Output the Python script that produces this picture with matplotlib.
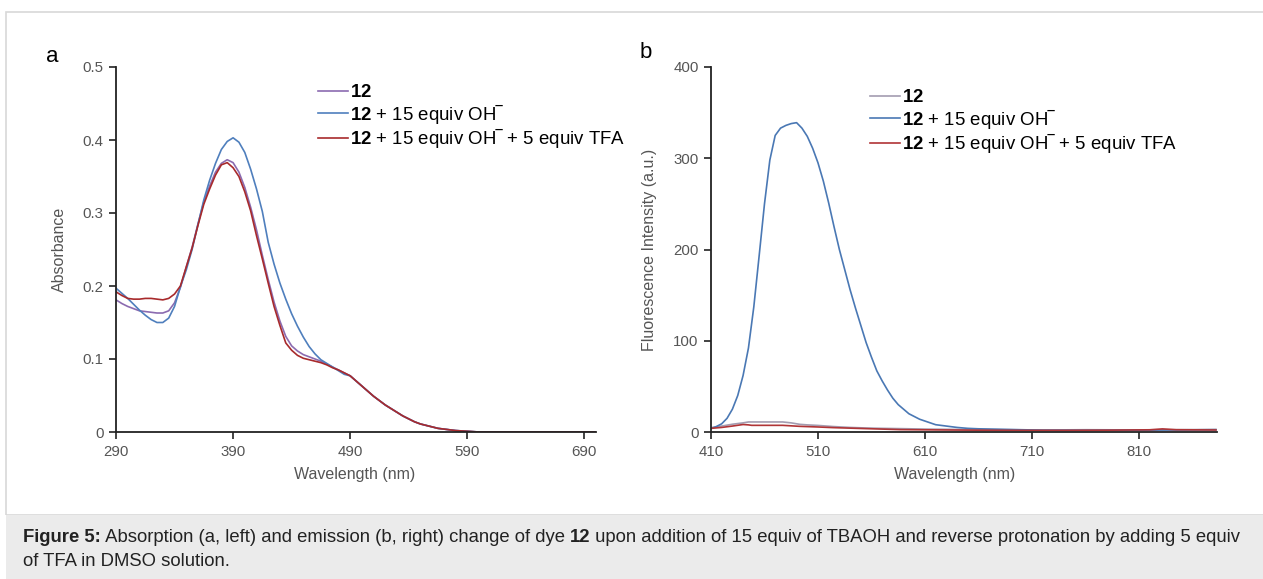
from __future__ import annotations

import matplotlib

matplotlib.use("Agg")
import matplotlib.pyplot as plt
from matplotlib.lines import Line2D
from matplotlib.patches import Rectangle

plt.rcParams["font.family"] = ["Liberation Sans", "DejaVu Sans"]
plt.rcParams["mathtext.fontset"] = "custom"
plt.rcParams["mathtext.rm"] = "Liberation Sans"
plt.rcParams["mathtext.bf"] = "Liberation Sans:bold"
plt.rcParams["mathtext.it"] = "Liberation Sans:italic"

# panel a: absorbance
ABS_WL = [
    290, 295, 300, 305, 310, 315, 320, 325, 330, 335, 340, 345, 350, 355, 360, 365,
    370, 375, 380, 385, 390, 395, 400, 405, 410, 415, 420, 425, 430, 435, 440, 445,
    450, 455, 460, 465, 470, 475, 480, 485, 490, 495, 500, 505, 510, 515, 520, 525,
    530, 535, 540, 545, 550, 555, 560, 565, 570, 575, 580, 590, 600, 650, 700,
]
ABS_TAIL = [
    0.077, 0.070, 0.063, 0.056, 0.049, 0.043, 0.037, 0.032, 0.027, 0.022, 0.018,
    0.014, 0.011, 0.009, 0.007, 0.005, 0.004, 0.003, 0.002, 0.001, 0.0, 0.0, 0.0,
]
ABS_DYE = [
    0.181, 0.176, 0.172, 0.169, 0.166, 0.165, 0.164, 0.163, 0.163, 0.166, 0.177, 0.198,
    0.226, 0.253, 0.285, 0.315, 0.337, 0.356, 0.368, 0.373, 0.369, 0.356, 0.335, 0.308,
    0.277, 0.242, 0.209, 0.178, 0.152, 0.131, 0.118, 0.111, 0.106, 0.103, 0.100, 0.097,
    0.093, 0.089, 0.085, 0.081,
] + ABS_TAIL
ABS_OH = [
    0.197, 0.190, 0.183, 0.175, 0.167, 0.160, 0.154, 0.150, 0.150, 0.156, 0.172, 0.199,
    0.222, 0.250, 0.284, 0.318, 0.345, 0.368, 0.387, 0.398, 0.403, 0.397, 0.383, 0.360,
    0.333, 0.302, 0.260, 0.230, 0.204, 0.182, 0.162, 0.145, 0.130, 0.117, 0.107, 0.099,
    0.094, 0.089, 0.084, 0.079,
] + ABS_TAIL
ABS_TFA = [
    0.192, 0.187, 0.183, 0.182, 0.182, 0.183, 0.183, 0.182, 0.181, 0.183, 0.189, 0.200,
    0.226, 0.252, 0.283, 0.312, 0.333, 0.352, 0.366, 0.369, 0.362, 0.350, 0.329, 0.303,
    0.269, 0.237, 0.204, 0.172, 0.146, 0.122, 0.112, 0.105, 0.101, 0.099, 0.097, 0.095,
    0.092, 0.088, 0.085, 0.081,
] + ABS_TAIL

# panel b: fluorescence
FL_OH_WL = [
    410, 415, 420, 425, 430, 435, 440, 445, 450, 455, 460, 465, 470, 475, 480, 485,
    490, 495, 500, 505, 510, 515, 520, 525, 530, 535, 540, 545, 550, 555, 560, 565,
    570, 575, 580, 585, 590, 595, 600, 605, 610, 615, 620, 630, 640, 650, 660, 680,
    700, 720, 760, 800, 840, 882,
]
FL_OH = [
    3.7, 6, 9, 15, 25, 40, 62, 92, 137, 193, 250, 298, 325, 333, 336, 338,
    339, 333, 324, 311, 295, 275, 251, 225, 200, 178, 156, 136, 117, 98, 82, 67,
    56, 46, 37, 30, 25, 20, 17, 14, 12, 10, 8, 6.5, 5, 4, 3.5, 3,
    2.5, 2, 1.8, 2, 2.2, 2.5,
]
FL_DYE_WL = [410, 420, 430, 440, 445, 450, 460, 470, 477, 485, 493, 500, 510, 524, 540,
             555, 570, 587, 610, 640, 680, 720, 760, 800, 840, 882]
FL_DYE = [4.8, 6.5, 8.5, 10, 11, 11, 11, 11, 11, 10, 8.4, 7.8, 7.2, 6, 5,
          4.4, 4, 3.7, 3.2, 2.8, 2.5, 2.2, 2.5, 2.3, 2.5, 2.8]
FL_TFA_WL = [410, 420, 430, 440, 445, 448, 460, 477, 493, 510, 524, 555, 587, 620, 660,
             700, 740, 780, 820, 832, 845, 882]
FL_TFA = [4, 5, 6.5, 8.2, 7.8, 7.3, 7.3, 7.3, 6.2, 5.5, 4.8, 3.7, 2.6, 2.3, 2,
          1.8, 1.8, 2, 2.4, 3.4, 2.5, 2.2]

LABELS = [
    r"$\mathbf{12}$",
    r"$\mathbf{12}$ + 15 equiv OH‾",
    r"$\mathbf{12}$ + 15 equiv OH‾ + 5 equiv TFA",
]
ABS_COLORS = ["#8b6bb0", "#4f7fbd", "#a82a2c"]
FL_COLORS = ["#a39cb0", "#4a78b4", "#b03436"]

CAPTION_LINE1 = [
    ("Figure 5:", "bold"),
    (" Absorption (a, left) and emission (b, right) change of dye ", "normal"),
    ("12", "bold"),
    (" upon addition of 15 equiv of TBAOH and reverse protonation by adding 5 equiv",
     "normal"),
]
CAPTION_LINE2 = "of TFA in DMSO solution."

W, H = 1263, 579
TICK_GRAY = "#555555"
CAPTION_SIZE = 13.35


def fx(px: float) -> float:
    return px / W


def fy(py: float) -> float:
    return 1 - py / H


def style_axes(ax) -> None:
    for side in ("top", "right"):
        ax.spines[side].set_visible(False)
    for side in ("left", "bottom"):
        ax.spines[side].set_linewidth(1.3)
        ax.spines[side].set_color("#222222")
    ax.tick_params(direction="out", length=5, width=1.2, color="#222222",
                   labelcolor=TICK_GRAY, labelsize=10.8, pad=4)


def add_legend(ax, colors, anchor) -> None:
    handles = [Line2D([], [], color=c, lw=1.2) for c in colors]
    ax.legend(handles, LABELS, loc="upper left", bbox_to_anchor=anchor, frameon=False,
              fontsize=13.4, handlelength=1.6, handletextpad=0.1, labelspacing=0.03,
              borderaxespad=0, borderpad=0)


def text_advance(fig, renderer, s: str, weight: str) -> float:
    # width incl. trailing spaces: measure with a sentinel glyph and subtract it
    probe = fig.text(0, 0, s + "|", fontsize=CAPTION_SIZE, weight=weight)
    bar = fig.text(0, 0, "|", fontsize=CAPTION_SIZE, weight=weight)
    width = (probe.get_window_extent(renderer).width
             - bar.get_window_extent(renderer).width)
    probe.remove()
    bar.remove()
    return width


def draw_caption(fig) -> None:
    renderer = fig.canvas.get_renderer()
    x = 23.0
    for part, weight in CAPTION_LINE1:
        fig.text(fx(x), fy(537), part, fontsize=CAPTION_SIZE, weight=weight,
                 color="#222222", ha="left", va="center")
        x += text_advance(fig, renderer, part, weight)
    fig.text(fx(23), fy(561), CAPTION_LINE2, fontsize=CAPTION_SIZE, color="#222222",
             ha="left", va="center")


def main() -> None:
    fig = plt.figure(figsize=(W / 100, H / 100), dpi=100)

    # page frame and caption box
    fig.patches.append(Rectangle((fx(6), fy(515)), fx(W + 10) - fx(6), fy(12) - fy(515),
                                 transform=fig.transFigure, fill=False,
                                 edgecolor="#d8d8d8", lw=1.2))
    fig.patches.append(Rectangle((fx(6), 0), 1, fy(515), transform=fig.transFigure,
                                 facecolor="#ebebeb", edgecolor="none"))

    ax_a = fig.add_axes([fx(116), fy(432), fx(596) - fx(116), fy(67) - fy(432)])
    ax_b = fig.add_axes([fx(711), fy(432), fx(1217) - fx(711), fy(67) - fy(432)])

    for values, color in zip([ABS_DYE, ABS_OH, ABS_TFA], ABS_COLORS, strict=True):
        ax_a.plot(ABS_WL, values, color=color, lw=1.2)
    ax_a.set_xlim(290, 700)
    ax_a.set_ylim(0, 0.5)
    ax_a.set_xticks([290, 390, 490, 590, 690])
    ax_a.set_yticks([0, 0.1, 0.2, 0.3, 0.4, 0.5])
    ax_a.set_yticklabels(["0", "0.1", "0.2", "0.3", "0.4", "0.5"])
    style_axes(ax_a)
    ax_a.set_ylabel("Absorbance", fontsize=11.5, color=TICK_GRAY)
    ax_a.yaxis.set_label_coords((67 - 116) / 480, 0.5)
    ax_a.set_xlabel("Wavelength (nm)", fontsize=11.5, color=TICK_GRAY, va="center")
    ax_a.xaxis.set_label_coords((355 - 116) / 480, (432 - 475) / 365)
    add_legend(ax_a, ABS_COLORS, ((318 - 116) / 480, (432 - 84) / 365))

    ax_b.plot(FL_DYE_WL, FL_DYE, color=FL_COLORS[0], lw=1.2)
    ax_b.plot(FL_OH_WL, FL_OH, color=FL_COLORS[1], lw=1.2)
    ax_b.plot(FL_TFA_WL, FL_TFA, color=FL_COLORS[2], lw=1.2)
    ax_b.set_xlim(410, 883)
    ax_b.set_ylim(0, 400)
    ax_b.set_xticks([410, 510, 610, 710, 810])
    ax_b.set_yticks([0, 100, 200, 300, 400])
    style_axes(ax_b)
    ax_b.set_ylabel("Fluorescence Intensity (a.u.)", fontsize=11.5, color=TICK_GRAY)
    ax_b.yaxis.set_label_coords((657 - 711) / 506, 0.5)
    ax_b.set_xlabel("Wavelength (nm)", fontsize=11.5, color=TICK_GRAY, va="center")
    ax_b.xaxis.set_label_coords((955 - 711) / 506, (432 - 475) / 365)
    add_legend(ax_b, FL_COLORS, ((870 - 711) / 506, (432 - 89) / 365))

    fig.text(fx(52), fy(57), "a", fontsize=16, ha="center", va="center")
    fig.text(fx(646), fy(52), "b", fontsize=16, ha="center", va="center")

    draw_caption(fig)

    fig.savefig("out.png", dpi=100)
    plt.close(fig)


if __name__ == "__main__":
    main()
